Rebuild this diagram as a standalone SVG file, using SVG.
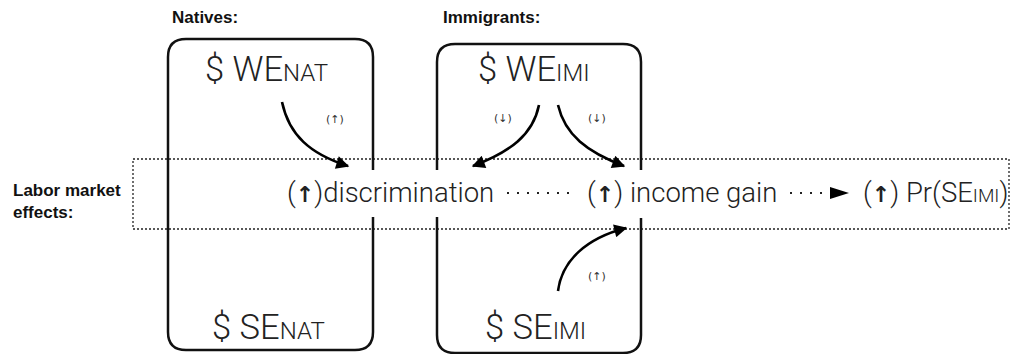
<svg xmlns="http://www.w3.org/2000/svg" width="1011" height="354" viewBox="0 0 1011 354">
<defs>
<style>
.lbl{font-family:"Liberation Sans",Arial,sans-serif;font-weight:bold;font-size:17px;fill:#111}
.big{font-family:Roboto,"Liberation Sans",sans-serif;font-weight:300;font-size:34.5px;fill:#222}
.sub{font-size:24px}
.row{font-family:Roboto,"Liberation Sans",sans-serif;font-weight:300;font-size:27.5px;fill:#222}
.rsub{font-size:19px}
.ar{font-family:"DejaVu Sans",sans-serif;font-weight:bold;font-size:22px}
.sm{font-family:"DejaVu Sans",sans-serif;font-size:11px;fill:#333}
.box{fill:none;stroke:#111;stroke-width:2.5;stroke-linejoin:round}
.arr{fill:none;stroke:#000;stroke-width:2.6}
.dot{fill:none;stroke:#222;stroke-width:1.3;stroke-dasharray:2 2}
.dots{fill:none;stroke:#222;stroke-width:2;stroke-dasharray:2 8}
</style>
<marker id="ah" viewBox="0 0 10 10" refX="9" refY="5" markerWidth="6" markerHeight="5" markerUnits="strokeWidth" orient="auto">
<path d="M0,0 L10,5 L0,10 z" fill="#000"/>
</marker>
</defs>
<rect width="1011" height="354" fill="#fff"/>
<text class="lbl" x="172" y="23">Natives:</text>
<text class="lbl" x="443" y="23">Immigrants:</text>
<text class="lbl" x="13" y="196">Labor market</text>
<text class="lbl" x="13" y="218">effects:</text>
<rect id="labor-market-band" class="dot" x="133" y="159" width="876" height="70"/>
<g id="natives">
<path class="box" d="M373,170 V57 Q373,39 355,39 H186 Q168,39 168,57 V332 Q168,350 186,350 H355 Q373,350 373,332 V217"/>
<text class="big" x="205" y="81">$ WE<tspan class="sub">NAT</tspan></text>
<text class="big" x="212" y="339">$ SE<tspan class="sub">NAT</tspan></text>
</g>
<g id="immigrants">
<path class="box" d="M437,170 V62 Q437,44 455,44 H623 Q641,44 641,62 V170 M641,218 V335 Q641,353 623,353 H455 Q437,353 437,335 V217"/>
<text class="big" x="478" y="81">$ WE<tspan class="sub">IMI</tspan></text>
<text class="big" x="485" y="339">$ SE<tspan class="sub">IMI</tspan></text>
</g>
<g id="discrimination"><text class="row" x="287" y="202">(<tspan class="ar">↑</tspan>)discrimination</text></g>
<g id="income-gain"><text class="row" x="587" y="202">(<tspan class="ar">↑</tspan>) income gain</text></g>
<g id="pr-se-imi"><text class="row" x="863" y="202">(<tspan class="ar">↑</tspan>) Pr(SE<tspan class="rsub">IMI</tspan>)</text></g>
<g id="connectors">
<path class="arr" marker-end="url(#ah)" d="M282,102 C289,135 310,154 348,166"/>
<text class="sm" x="326" y="123">(↑)</text>
<path class="arr" marker-end="url(#ah)" d="M539,105 C533,135 510,152 473,166"/>
<text class="sm" x="494" y="122">(↓)</text>
<path class="arr" marker-end="url(#ah)" d="M558,105 C565,135 587,152 624,166"/>
<text class="sm" x="588" y="122">(↓)</text>
<path class="arr" marker-end="url(#ah)" d="M558,291 C562,260 587,238 626,228"/>
<text class="sm" x="588" y="280">(↑)</text>
<line class="dots" x1="507" y1="193" x2="570" y2="193"/>
<line class="dots" x1="790" y1="193" x2="830" y2="193"/>
<path d="M830,187 L849,193 L830,199 z" fill="#000"/>
</g>
</svg>
